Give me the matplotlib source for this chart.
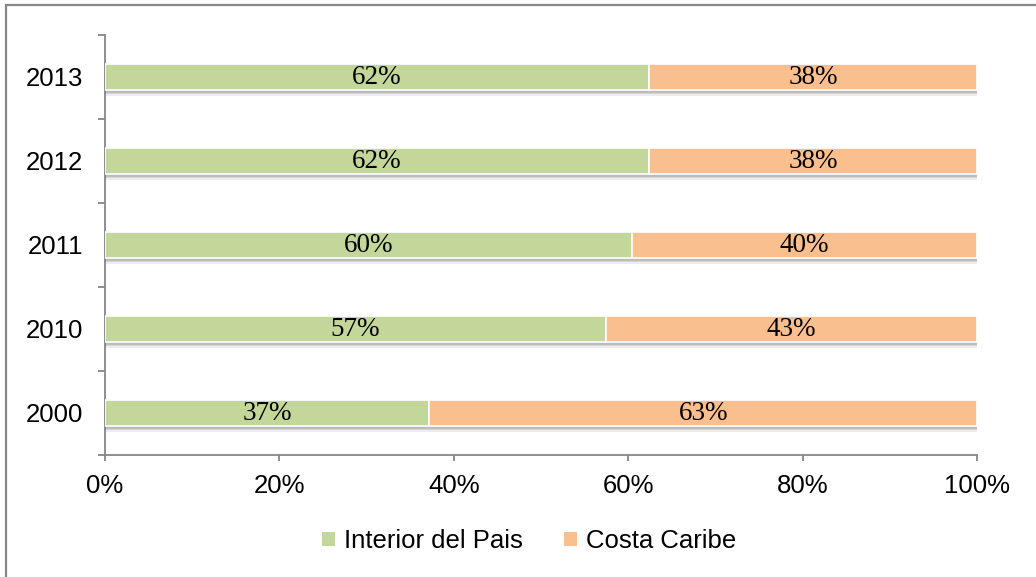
import numpy as np
import matplotlib
matplotlib.use('Agg')
import matplotlib.pyplot as plt
import matplotlib.patheffects as pe
from matplotlib.patches import Rectangle, Patch

# ── Data ──────────────────────────────────────────────────────────────────────
years    = ['2000', '2010', '2011', '2012', '2013']
interior = [37.2, 57.4, 60.4, 62.4, 62.4]
costa    = [62.8, 42.6, 39.6, 37.6, 37.6]
series_names = ['Interior del Pais', 'Costa Caribe']

C_INT  = '#C4D79B'
C_COS  = '#FABF8F'
C_AXIS = '#868686'
SANS   = 'Liberation Sans'
SERIF  = 'Liberation Serif'

fig = plt.figure(figsize=(10.36, 5.77), dpi=100)
fig.patch.set_facecolor('white')

# outer chart frame (only top/left edges fall inside the canvas)
fig.patches.append(Rectangle((6 / 1036, -0.02), 1.05, 1 - 5 / 577 + 0.02,
                             transform=fig.transFigure, fill=False,
                             ec=C_AXIS, lw=1.6, zorder=0))

ax = fig.add_axes([105 / 1036, 1 - 455 / 577, 872 / 1036, 420 / 577])

y = np.arange(len(years))
# soft drop shadow under each bar: a few stacked translucent offsets
shadow = [pe.SimplePatchShadow(offset=(0.3, -o), shadow_rgbFace='#707070', alpha=a)
          for o, a in [(4.0, 0.12), (3.0, 0.18), (2.0, 0.25)]] + [pe.Normal()]
ax.barh(y, interior, height=0.31, color=C_INT, edgecolor='white', lw=1.2,
        path_effects=shadow, zorder=3)
ax.barh(y, costa, left=interior, height=0.31, color=C_COS, edgecolor='white',
        lw=1.2, path_effects=shadow, zorder=3)

# percentage labels centred in each segment
for yi, a, b in zip(y, interior, costa):
    ax.text(a / 2, yi, f'{a:.0f}%', ha='center', va='center',
            fontsize=19.5, family=SERIF, color='black', zorder=5)
    ax.text(a + b / 2, yi, f'{b:.0f}%', ha='center', va='center',
            fontsize=19.5, family=SERIF, color='black', zorder=5)

ax.set_xlim(0, 100)
ax.set_ylim(-0.5, len(years) - 0.5)

ax.set_xticks(np.arange(0, 101, 20))
ax.set_xticklabels([f'{v}%' for v in range(0, 101, 20)], fontsize=18.5, family=SANS)
ax.set_yticks(y)
ax.set_yticklabels(years, fontsize=18.5, family=SANS)
ax.set_yticks(np.arange(-0.5, len(years), 1.0), minor=True)

ax.tick_params(axis='y', which='major', length=0, pad=16)
ax.tick_params(axis='y', which='minor', length=5, color=C_AXIS, width=1.3)
ax.tick_params(axis='x', length=4.5, color=C_AXIS, width=1.3, pad=9)

for s in ['top', 'right']:
    ax.spines[s].set_visible(False)
for s in ['left', 'bottom']:
    ax.spines[s].set_color(C_AXIS)
    ax.spines[s].set_linewidth(1.3)

handles = [Patch(fc=C_INT, ec='none'), Patch(fc=C_COS, ec='none')]
fig.legend(handles, series_names, loc='center', bbox_to_anchor=(529 / 1036, 1 - 541 / 577),
           ncol=2, frameon=False, handlelength=0.5, handleheight=0.5,
           handletextpad=0.35, columnspacing=1.6,
           prop={'family': SANS, 'size': 18.5})

plt.savefig('out.png', dpi=100, facecolor=fig.get_facecolor())
